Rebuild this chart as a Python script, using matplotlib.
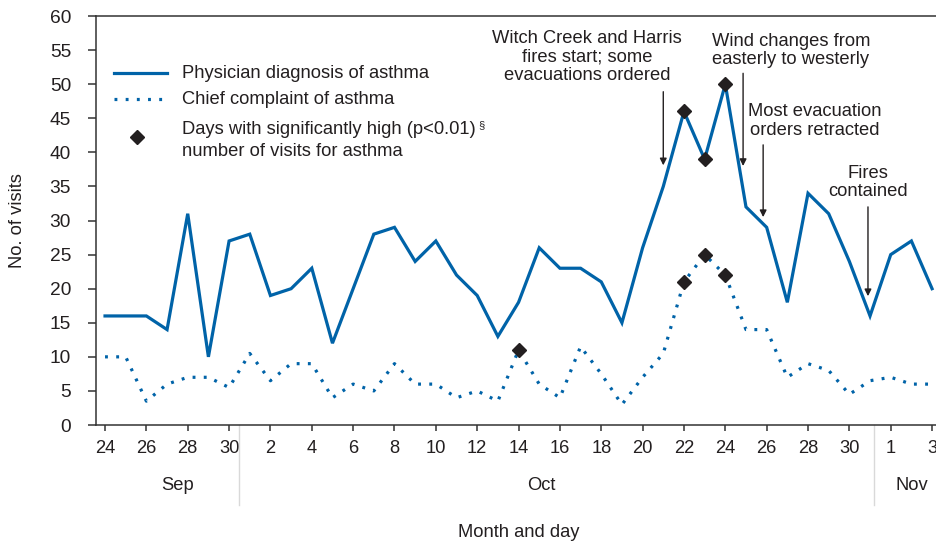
# ------------------------------------------------------------
# Asthma-related ED visits, San Diego wildfires, Sep 24 - Nov 3
# ------------------------------------------------------------

import matplotlib
matplotlib.use("Agg")
import matplotlib.pyplot as plt
from matplotlib.lines import Line2D
from matplotlib.transforms import blended_transform_factory

plt.rcParams["font.family"] = ["Liberation Sans", "DejaVu Sans"]

# ------------------------------------------------------------
# 1. DATA (one value per day, Sep 24 ... Nov 3)
# ------------------------------------------------------------
physician_dx = [16, 16, 16, 14, 31, 10, 27,
                28, 19, 20, 23, 12, 20, 28, 29, 24, 27, 22, 19, 13, 18,
                26, 23, 23, 21, 15, 26, 35, 46, 39, 50, 32, 29, 18, 34,
                31, 24, 16,
                25, 27, 20]

chief_complaint = [10, 10, 3.5, 6, 7, 7, 5.5,
                   10.5, 6.5, 9, 9, 4, 6, 5, 9, 6, 6, 4, 5, 3.5, 11,
                   6, 4, 11.5, 7.5, 3, 7, 10.5, 21, 25, 22, 14, 14, 7, 9,
                   8, 4.5, 6.5,
                   7, 6, 6]

days = list(range(len(physician_dx)))

# days (index) with significantly high counts
high_physician = [28, 29, 30]
high_complaint = [20, 28, 29, 30]

tick_days = list(range(0, 41, 2))
tick_labels = ["24", "26", "28", "30",
               "2", "4", "6", "8", "10", "12", "14", "16", "18", "20",
               "22", "24", "26", "28", "30",
               "1", "3"]

months = ["Sep", "Oct", "Nov"]
month_centers = [3.5, 21.1, 39.0]
month_breaks = [6.5, 37.2]

BLUE = "#0063a8"
INK = "#231f20"
FS = 13.2

# ------------------------------------------------------------
# 2. FIGURE AND AXES
# ------------------------------------------------------------
fig = plt.figure(figsize=(9.36, 5.46), dpi=100)
ax = fig.add_axes([0.1026, 0.2216, 0.8974, 0.749])

ax.plot(days, physician_dx, color=BLUE, lw=2.3, solid_joinstyle="miter")
ax.plot(days, chief_complaint, color=BLUE, lw=2.3,
        linestyle=(0, (0.9, 2.6)))

ax.plot(high_physician, [physician_dx[d] for d in high_physician],
        "D", color=INK, ms=7, zorder=5)
ax.plot(high_complaint, [chief_complaint[d] for d in high_complaint],
        "D", color=INK, ms=7, zorder=5)

ax.set_xlim(-0.435, 40.19)
ax.set_ylim(0, 60)
ax.set_yticks(range(0, 61, 5))
ax.set_xticks(tick_days)
ax.set_xticklabels(tick_labels)

for side in ["left", "bottom", "top"]:
    ax.spines[side].set_color("#333333")
    ax.spines[side].set_linewidth(1.1)
ax.spines["right"].set_visible(False)

ax.tick_params(axis="y", direction="out", length=6, width=1.1,
               pad=12, labelsize=13.8, colors="#333333", labelcolor=INK)
ax.tick_params(axis="x", direction="out", length=4.5, width=1.1,
               pad=6, labelsize=FS, colors="#333333", labelcolor=INK)

ax.set_ylabel("No. of visits", fontsize=FS, color=INK)
ax.yaxis.set_label_coords(-0.094, 0.5)
ax.yaxis.label.set_va("center")
ax.set_xlabel("Month and day", fontsize=FS, color=INK)
ax.xaxis.set_label_coords(0.5036, -0.264)
ax.xaxis.label.set_va("center")

# ------------------------------------------------------------
# 3. MONTH LABELS AND SEPARATORS
# ------------------------------------------------------------
trans = blended_transform_factory(ax.transData, ax.transAxes)
for name, xc in zip(months, month_centers):
    ax.text(xc, -0.147, name, transform=trans, ha="center", va="center",
            fontsize=FS, color=INK)
for xb in month_breaks:
    ax.plot([xb, xb], [0, -0.196], transform=trans, color="#d9d9d9",
            lw=1, clip_on=False)

# ------------------------------------------------------------
# 4. LEGEND (drawn by hand)
# ------------------------------------------------------------
ax.add_line(Line2D([0.0214, 0.0845], [0.8606, 0.8606], transform=ax.transAxes,
                   color=BLUE, lw=2.3))
ax.add_line(Line2D([0.0214, 0.0845], [0.797, 0.797], transform=ax.transAxes,
                   color=BLUE, lw=2.3, linestyle=(0, (0.9, 2.6))))
ax.add_line(Line2D([0.0488], [0.704], transform=ax.transAxes,
                   marker="D", color=INK, ms=7, lw=0))

legend_kw = dict(transform=ax.transAxes, fontsize=FS, color=INK,
                 va="center", ha="left")
ax.text(0.1024, 0.8606, "Physician diagnosis of asthma", **legend_kw)
ax.text(0.1024, 0.797, "Chief complaint of asthma", **legend_kw)
t_high = ax.text(0.1024, 0.7237, "Days with significantly high (p<0.01)",
                 **legend_kw)
ax.text(0.1024, 0.670, "number of visits for asthma", **legend_kw)
ax.annotate("§", xy=(1.0, 1.0), xycoords=t_high, xytext=(1.5, 0),
            textcoords="offset points", fontsize=8, color=INK,
            va="top", ha="left")

# ------------------------------------------------------------
# 5. EVENT ANNOTATIONS
# ------------------------------------------------------------
events = [
    ("Witch Creek and Harris\nfires start; some\nevacuations ordered",
     23.31, 54.0, 27.0, 48.9, 38.1),
    ("Wind changes from\neasterly to westerly", 33.18, 54.9, 30.86, 51.6, 38.0),
    ("Most evacuation\norders retracted", 34.34, 44.6, 31.83, 41.1, 30.5),
    ("Fires\ncontained", 36.9, 35.6, 36.9, 32.0, 18.9),
]

for label, tx, ty, ax_x, y_from, y_to in events:
    ax.text(tx, ty, label, ha="center", va="center", fontsize=FS,
            color=INK, linespacing=1.1)
    ax.annotate("", xy=(ax_x, y_to), xytext=(ax_x, y_from),
                arrowprops=dict(arrowstyle="-|>", color=INK, lw=1,
                                mutation_scale=10, shrinkA=0, shrinkB=0))

fig.savefig("out.png", dpi=100)
